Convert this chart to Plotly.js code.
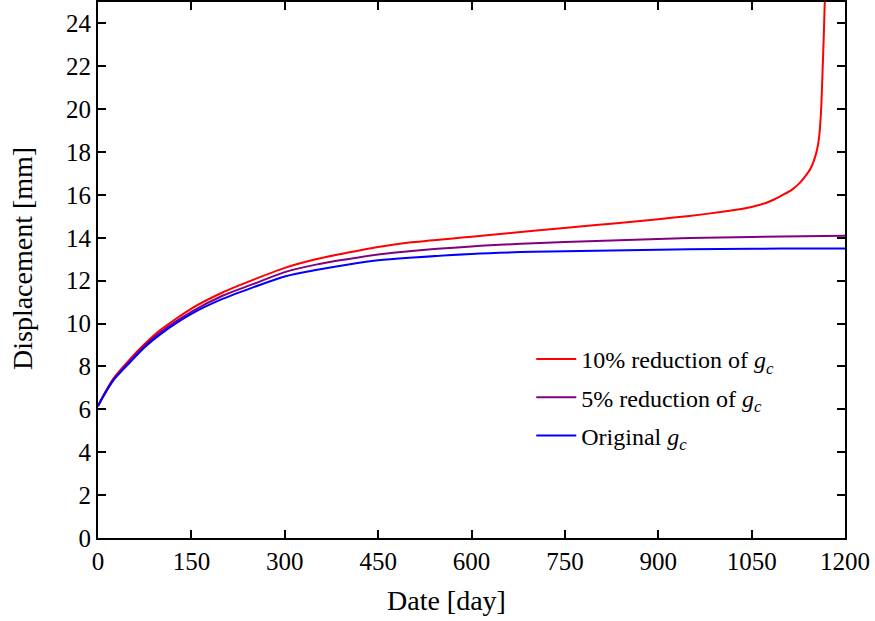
<!DOCTYPE html>
<html>
<head>
<meta charset="utf-8">
<script src="https://cdn.plot.ly/plotly-3.0.1.min.js"></script>
<style>html,body{margin:0;padding:0;background:#fff;}#chart{width:875px;height:621px;}</style>
</head>
<body>
<div id="chart"></div>
<script>
// Days and displacement values [mm]
const daysRed = [0, 10, 25, 50, 75, 100, 150, 200, 250, 300, 350, 400, 450, 500, 600, 700, 800, 850, 900, 950, 1000, 1025, 1050, 1062, 1075, 1087, 1100, 1115, 1127, 1137, 1145, 1150, 1155, 1158, 1160, 1162, 1164, 1166, 1168];
const red10   = [6.15, 6.72, 7.45, 8.3, 9.05, 9.7, 10.7, 11.45, 12.05, 12.6, 13.0, 13.3, 13.57, 13.78, 14.05, 14.33, 14.6, 14.73, 14.87, 15.02, 15.2, 15.31, 15.44, 15.53, 15.65, 15.8, 16.0, 16.25, 16.55, 16.9, 17.25, 17.6, 18.1, 18.6, 19.2, 20.2, 21.8, 23.5, 25.5];

const daysAll = [0, 10, 25, 50, 75, 100, 150, 200, 250, 300, 350, 400, 450, 500, 600, 700, 800, 900, 1000, 1100, 1200];
const purple5 = [6.15, 6.7, 7.4, 8.22, 8.98, 9.6, 10.55, 11.3, 11.85, 12.4, 12.75, 13.0, 13.22, 13.38, 13.6, 13.75, 13.85, 13.95, 14.02, 14.06, 14.1];
const blueOrig = [6.15, 6.68, 7.36, 8.15, 8.9, 9.5, 10.45, 11.15, 11.7, 12.2, 12.5, 12.75, 12.95, 13.07, 13.25, 13.35, 13.4, 13.45, 13.48, 13.5, 13.5];

const names = ['10% reduction of <i>g</i><sub><i>c</i></sub>', '5% reduction of <i>g</i><sub><i>c</i></sub>', 'Original <i>g</i><sub><i>c</i></sub>'];
const xTicks = [0, 150, 300, 450, 600, 750, 900, 1050, 1200];
const yTicks = [0, 2, 4, 6, 8, 10, 12, 14, 16, 18, 20, 22, 24];
const xTitle = 'Date [day]';
const yTitle = 'Displacement [mm]';

const fam = '"Liberation Serif", "Times New Roman", serif';
const tickFont = {family: fam, size: 25, color: '#000'};
const titleFont = {family: fam, size: 28, color: '#000'};
const legendFont = {family: fam, size: 24, color: '#000'};

const traces = [
  {x: daysRed, y: red10, name: names[0], mode: 'lines', line: {color: '#ff0000', width: 2, shape: 'spline', smoothing: 0.6}, legendgroup: 'a'},
  {x: daysAll, y: purple5, name: names[1], mode: 'lines', line: {color: '#800080', width: 2, shape: 'spline', smoothing: 0.8}, legendgroup: 'b'},
  {x: daysAll, y: blueOrig, name: names[2], mode: 'lines', line: {color: '#0000ff', width: 2, shape: 'spline', smoothing: 0.8}, legendgroup: 'c'}
];

const axisCommon = {
  showgrid: false, zeroline: false, showline: true, linecolor: '#000', linewidth: 2,
  mirror: 'ticks', ticks: 'inside', ticklen: 8, tickwidth: 2, tickcolor: '#000',
  tickfont: tickFont
};

const layout = {
  width: 875, height: 621,
  margin: {l: 98, r: 30, t: 2, b: 83},
  paper_bgcolor: '#fff', plot_bgcolor: '#fff',
  font: tickFont,
  showlegend: true,
  legend: {x: 0.58, y: 0.375, xanchor: 'left', yanchor: 'top', bgcolor: 'rgba(0,0,0,0)', font: legendFont, tracegroupgap: 4, itemwidth: 40},
  xaxis: Object.assign({}, axisCommon, {range: [0, 1200], tickvals: xTicks, ticktext: xTicks.map(String)}),
  yaxis: Object.assign({}, axisCommon, {range: [0, 25], tickvals: yTicks, ticktext: yTicks.map(String)}),
  annotations: [
    {text: xTitle, xref: 'paper', yref: 'paper', x: 0.467, y: -0.116, xanchor: 'center', yanchor: 'middle', showarrow: false, font: titleFont},
    {text: yTitle, xref: 'paper', yref: 'paper', x: -0.102, y: 0.522, xanchor: 'center', yanchor: 'middle', textangle: -90, showarrow: false, font: titleFont}
  ]
};

Plotly.newPlot('chart', traces, layout, {displayModeBar: false, staticPlot: true});
</script>
</body>
</html>
